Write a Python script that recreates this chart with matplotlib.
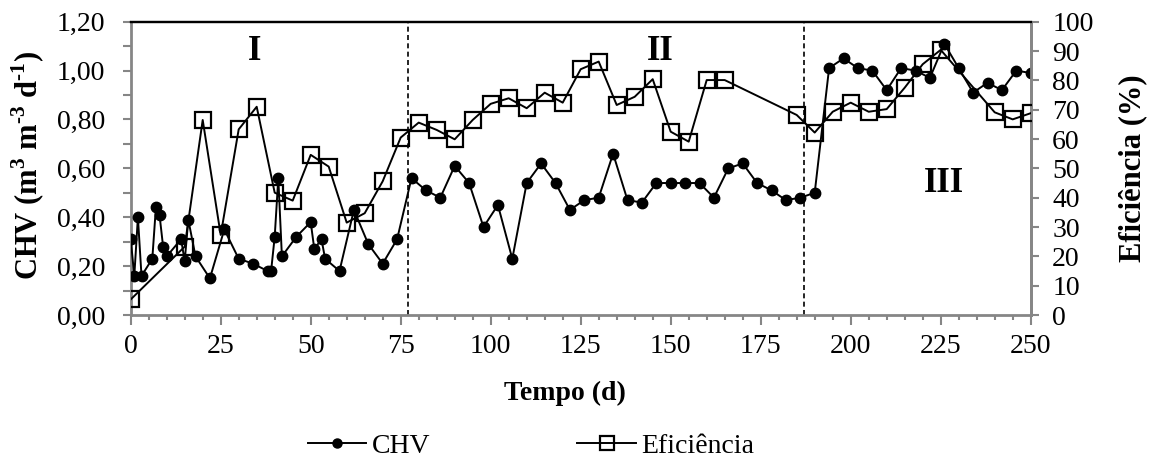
import matplotlib
matplotlib.use('Agg')
import matplotlib.pyplot as plt
from matplotlib.ticker import MultipleLocator, FuncFormatter
from matplotlib.lines import Line2D

plt.rcParams['font.family'] = ['Liberation Serif', 'DejaVu Serif']
plt.rcParams['mathtext.fontset'] = 'custom'
plt.rcParams['mathtext.rm'] = 'Liberation Serif'
plt.rcParams['mathtext.bf'] = 'Liberation Serif:bold'

# ---- data ----
days_chv = [0, 1, 2, 3, 6, 7, 8, 9, 10, 14, 15, 16, 18, 22, 26, 30, 34, 38, 39, 40,
            41, 42, 46, 50, 51, 53, 54, 58, 62, 66, 70, 74, 78, 82, 86, 90, 94, 98,
            102, 106, 110, 114, 118, 122, 126, 130, 134, 138, 142, 146, 150, 154,
            158, 162, 166, 170, 174, 178, 182, 186, 190, 194, 198, 202, 206, 210,
            214, 218, 222, 226, 230, 234, 238, 242, 246, 250]
chv = [0.31, 0.16, 0.40, 0.16, 0.23, 0.44, 0.41, 0.28, 0.24, 0.31, 0.22, 0.39, 0.24,
       0.15, 0.35, 0.23, 0.21, 0.18, 0.18, 0.32, 0.56, 0.24, 0.32, 0.38, 0.27, 0.31,
       0.23, 0.18, 0.43, 0.29, 0.21, 0.31, 0.56, 0.51, 0.48, 0.61, 0.54, 0.36, 0.45,
       0.23, 0.54, 0.62, 0.54, 0.43, 0.47, 0.48, 0.66, 0.47, 0.46, 0.54, 0.54, 0.54,
       0.54, 0.48, 0.60, 0.62, 0.54, 0.51, 0.47, 0.48, 0.50, 1.01, 1.05, 1.01, 1.00,
       0.92, 1.01, 1.00, 0.97, 1.11, 1.01, 0.91, 0.95, 0.92, 1.00, 0.99]

days_eff = [0, 15, 20, 25, 30, 35, 40, 45, 50, 55, 60, 65, 70, 75, 80, 85, 90, 95,
            100, 105, 110, 115, 120, 125, 130, 135, 140, 145, 150, 155, 160, 165,
            185, 190, 195, 200, 205, 210, 215, 220, 225, 240, 245, 250]
eff = [5.3, 23.3, 66.5, 27.3, 63.3, 71.0, 41.7, 39.0, 54.6, 50.6, 31.5, 34.7, 45.6,
       60.5, 65.6, 63.1, 59.9, 66.5, 72.0, 73.9, 70.5, 75.8, 72.4, 83.8, 86.4, 71.6,
       74.4, 80.4, 62.5, 59.1, 80.1, 80.1, 68.2, 62.2, 69.3, 72.4, 69.3, 70.2, 77.5,
       85.5, 90.4, 69.1, 66.7, 68.8]

phase_limits = [77, 187]
phase_labels = ['I', 'II', 'III']
phase_label_pos = [(34.5, 1.08), (147, 1.08), (226, 0.54)]

x_label = 'Tempo (d)'
y_label = 'CHV (m$^{\\mathbf{3}}$ m$^{\\mathbf{\u20103}}$ d$^{\\mathbf{\u20101}}$)'
y2_label = 'Eficiência (%)'
series_names = ['CHV', 'Eficiência']

# ---- figure ----
W, H = 1158, 461
fig = plt.figure(figsize=(W / 100, H / 100), dpi=100)
left, right, top, bottom = 130.7, 1030.7, 21.7, 315
ax = fig.add_axes([left / W, 1 - bottom / H, (right - left) / W, (bottom - top) / H])
ax2 = ax.twinx()

grey = '#868686'
fs = 20

ax.set_xlim(0, 250)
ax.set_ylim(0, 1.2)
ax2.set_ylim(0, 100)

ax.plot(days_chv, chv, color='black', lw=1.4, marker='o', ms=7.5, zorder=3)
ax2.plot(days_eff, eff, color='black', lw=1.4, marker='s', ms=12,
         mfc='none', mec='black', mew=1.6, zorder=3)

for xv in phase_limits:
    ax.axvline(xv, color='black', lw=1.2, ls=(0, (3, 2)), zorder=2)

for lab, (xp, yp) in zip(phase_labels, phase_label_pos):
    ax.text(xp, yp, lab, ha='center', va='center', fontsize=25, fontweight='bold')

# ticks
ax.xaxis.set_major_locator(MultipleLocator(25))
ax.xaxis.set_minor_locator(MultipleLocator(5))
ax.yaxis.set_major_locator(MultipleLocator(0.2))
ax.yaxis.set_minor_locator(MultipleLocator(0.1))
ax.yaxis.set_major_formatter(FuncFormatter(lambda v, p: f'{v:.2f}'.replace('.', ',')))
ax2.yaxis.set_major_locator(MultipleLocator(10))

ax.tick_params(axis='x', which='major', direction='out', length=7, width=1.5,
               color=grey, labelsize=fs, pad=7)
ax.tick_params(axis='x', which='minor', direction='out', length=3.5, width=1.5,
               color=grey)
ax.tick_params(axis='y', which='both', direction='out', length=5.5, width=1.5,
               color=grey, labelsize=fs, pad=13)
ax2.tick_params(axis='y', which='major', direction='out', length=5.5, width=1.5,
                color=grey, labelsize=fs, pad=10)

for a in (ax, ax2):
    a.spines['top'].set_color('black')
    a.spines['top'].set_linewidth(1.6)
    for s in ('left', 'right', 'bottom'):
        a.spines[s].set_color(grey)
        a.spines[s].set_linewidth(2)
ax2.spines['left'].set_visible(False)
ax2.spines['bottom'].set_visible(False)

fig.text(28 / W, 1 - 165 / H, y_label, rotation=90, ha='center', va='center',
         fontsize=22, fontweight='bold')
fig.text(1133 / W, 1 - 168 / H, y2_label, rotation=90, ha='center', va='center',
         fontsize=22, fontweight='bold')
fig.text(565 / W, 1 - 393 / H, x_label, ha='center', va='center',
         fontsize=20, fontweight='bold')

handles = [Line2D([], [], color='black', lw=1.4, marker='o', ms=6.5),
           Line2D([], [], color='black', lw=1.4, marker='s', ms=10, mfc='none',
                  mec='black', mew=1.6)]
fig.legend(handles, series_names, loc='center', bbox_to_anchor=(531 / W, 1 - 446 / H),
           ncol=2, frameon=False, fontsize=fs, handlelength=2.1, handletextpad=0.2,
           columnspacing=5.3, borderpad=0.1)

fig.savefig('out.png', dpi=100)
